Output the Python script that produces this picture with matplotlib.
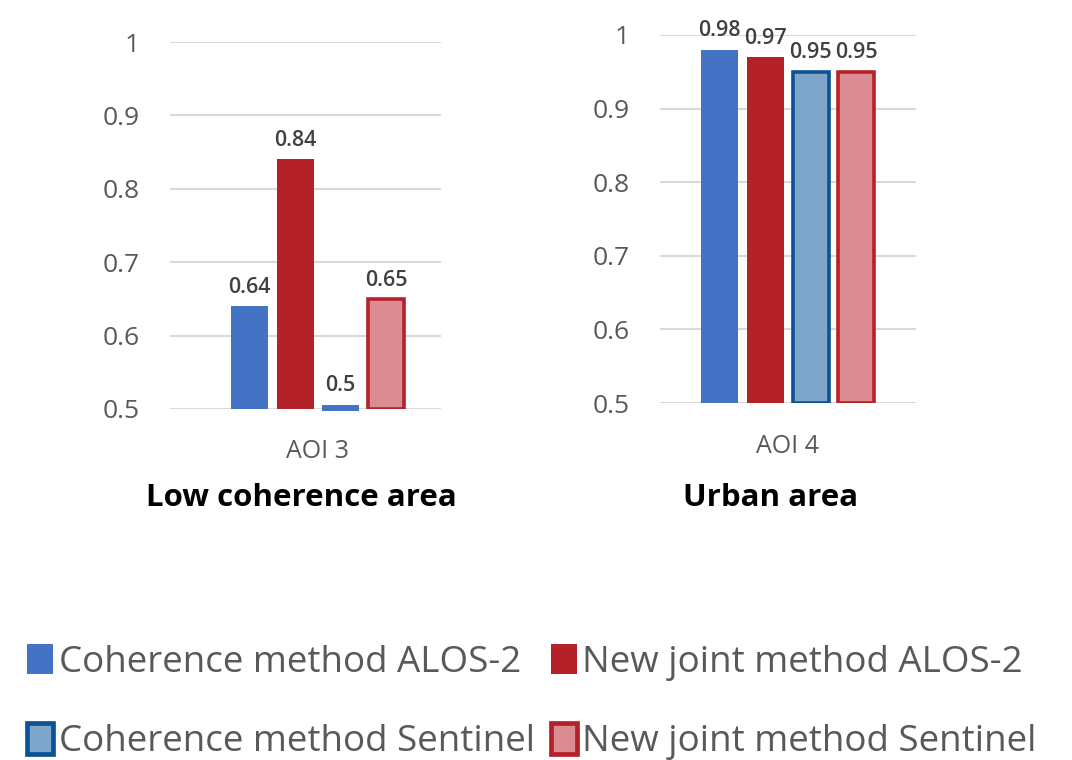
import matplotlib
matplotlib.use("Agg")
import matplotlib.pyplot as plt
import numpy as np
from matplotlib.patches import Patch

plt.rcParams["font.family"] = ["Open Sans", "DejaVu Sans"]

series = [
    "Coherence method ALOS-2",
    "New joint method ALOS-2",
    "Coherence method Sentinel",
    "New joint method Sentinel",
]
aoi3_values = [0.64, 0.84, 0.50, 0.65]
aoi4_values = [0.98, 0.97, 0.95, 0.95]
panel_labels = ["AOI 3", "AOI 4"]
panel_titles = ["Low coherence area", "Urban area"]
y_ticks = [0.5, 0.6, 0.7, 0.8, 0.9, 1.0]
y_ticklabels = ["0.5", "0.6", "0.7", "0.8", "0.9", "1"]

BLUE = "#4472C4"
RED = "#B52128"
faces = [BLUE, RED, "#7EA6CA", "#DB8C92"]
edges = [BLUE, RED, "#0B5394", RED]
edge_w = [0, 0, 2.6, 2.6]
GREY = "#595959"

W, H = 1072, 760
fig = plt.figure(figsize=(W / 100, H / 100), dpi=100)

# axes boxes in pixels: left, right, y of 0.5, y of 1.0, group centre
boxes = [(170, 441, 409, 42, 318), (660, 916, 403, 35, 788)]
label_y = [452, 446]
title_pos = [(301, 498), (771, 498)]

for i, (vals, box) in enumerate(zip([aoi3_values, aoi4_values], boxes)):
    x0, x1, yb, yt, gc = box
    ax = fig.add_axes([x0 / W, 1 - yb / H, (x1 - x0) / W, (yb - yt) / H])
    ax.set_xlim(x0 - gc, x1 - gc)
    ax.set_ylim(0.5, 1.0)
    offsets = (np.arange(4) - 1.5) * 45.5
    for j, v in enumerate(vals):
        if v <= 0.5:
            # value sits on the axis minimum: show a thin stub
            ax.bar(offsets[j], 0.009, width=37, bottom=0.497, color=edges[j - 2],
                   linewidth=0, clip_on=False, zorder=3)
            top = 0.506
        else:
            w = 37 if edge_w[j] == 0 else 36
            ax.bar(offsets[j], v - 0.5, width=w, bottom=0.5, color=faces[j],
                   edgecolor=edges[j], linewidth=edge_w[j], zorder=3)
            top = v
        ax.annotate(f"{v:g}", (offsets[j], top), xytext=(0, 6),
                    textcoords="offset points", ha="center", va="bottom",
                    fontsize=15.5, fontweight="semibold", color="#404040",
                    annotation_clip=False)
    ax.set_yticks(y_ticks)
    ax.set_yticklabels(y_ticklabels, fontsize=19, color=GREY)
    ax.tick_params(axis="y", length=0, pad=22)
    ax.set_xticks([])
    ax.grid(axis="y", color="#D9D9D9", linewidth=1.5, zorder=0)
    for s in ax.spines.values():
        s.set_visible(False)
    fig.text((gc - 1) / W, 1 - label_y[i] / H, panel_labels[i],
             ha="center", va="center", fontsize=18, color=GREY)
    tx, ty = title_pos[i]
    fig.text(tx / W, 1 - ty / H, panel_titles[i], ha="center", va="center",
             fontsize=22.5, fontweight="bold", color="black")

handles = [Patch(facecolor=f, edgecolor=e, linewidth=lw * 1.3)
           for f, e, lw in zip(faces, edges, edge_w)]
order = [0, 2, 1, 3]
fig.legend([handles[k] for k in order], [series[k] for k in order],
           loc="center", bbox_to_anchor=(532 / W, 1 - 702 / H), ncol=2,
           frameon=False, fontsize=26.5, labelcolor=GREY, handlelength=0.7,
           handleheight=0.9, handletextpad=0.15, columnspacing=0.45,
           labelspacing=1.15)

fig.savefig("out.png", dpi=100)
